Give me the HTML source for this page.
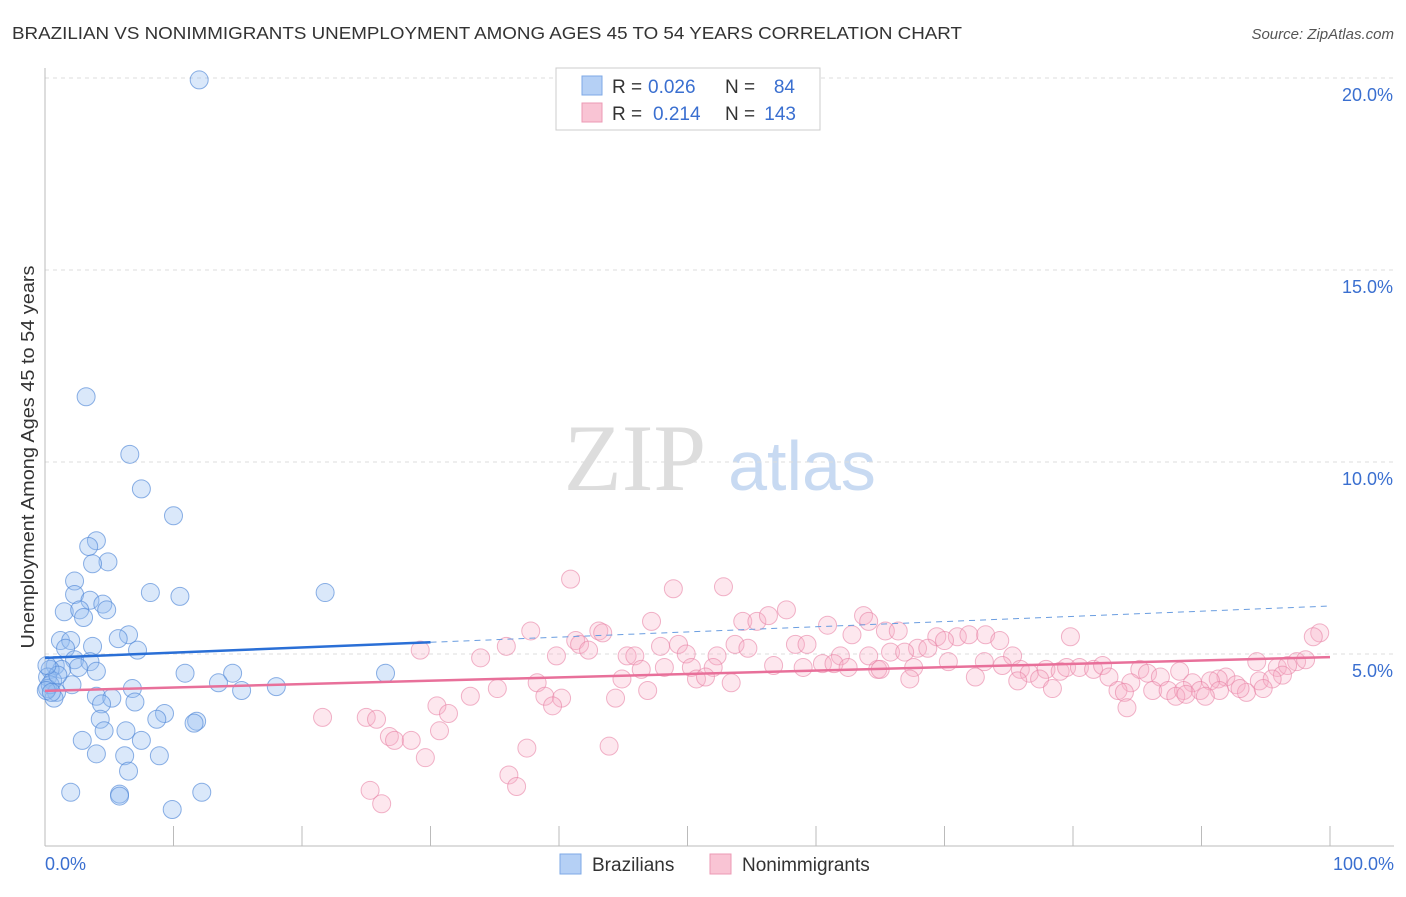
<!DOCTYPE html>
<html><head><meta charset="utf-8"><style>
body{margin:0;background:#fff;font-family:"Liberation Sans",sans-serif;}
</style></head><body>
<svg id="chart" width="1406" height="892" viewBox="0 0 1406 892" xmlns="http://www.w3.org/2000/svg">
<text x="12" y="39" font-size="17.5" fill="#333" textLength="950" lengthAdjust="spacingAndGlyphs">BRAZILIAN VS NONIMMIGRANTS UNEMPLOYMENT AMONG AGES 45 TO 54 YEARS CORRELATION CHART</text>
<text x="1394" y="39" font-size="15" fill="#555" text-anchor="end" font-style="italic">Source: ZipAtlas.com</text>
<g>
<text x="635" y="490" font-size="95" fill="#ddd" font-family="Liberation Serif" text-anchor="middle">ZIP</text>
<text x="802" y="490" font-size="70" fill="#c8daf2" text-anchor="middle">atlas</text>
</g>
<text transform="translate(34,457) rotate(-90)" font-size="18" fill="#333" text-anchor="middle" textLength="383" lengthAdjust="spacingAndGlyphs">Unemployment Among Ages 45 to 54 years</text>
<g id="grid"></g><g id="axes"></g><g id="marks"></g><g id="trends"></g>
<g>
<rect x="556" y="68" width="264" height="62" fill="#fff" stroke="#ccc"/>
<rect x="582" y="76" width="20" height="19" fill="#b5d0f5" stroke="#7ea8e6"/>
<rect x="582" y="103" width="20" height="19" fill="#f9c4d4" stroke="#ec9ab4"/>
<text x="612" y="93" font-size="19" fill="#333">R =</text>
<text x="648" y="93" font-size="19" fill="#3a6fd0">0.026</text>
<text x="725" y="93" font-size="19" fill="#333">N =</text>
<text x="795" y="93" font-size="19" fill="#3a6fd0" text-anchor="end">84</text>
<text x="612" y="120" font-size="19" fill="#333">R =</text>
<text x="653" y="120" font-size="19" fill="#3a6fd0">0.214</text>
<text x="725" y="120" font-size="19" fill="#333">N =</text>
<text x="796" y="120" font-size="19" fill="#3a6fd0" text-anchor="end">143</text>
</g>
<g>
<rect x="560" y="854" width="21" height="20" fill="#b5d0f5" stroke="#7ea8e6"/>
<text x="592" y="871" font-size="19" fill="#333">Brazilians</text>
<rect x="710" y="854" width="21" height="20" fill="#f9c4d4" stroke="#ec9ab4"/>
<text x="742" y="871" font-size="19" fill="#333">Nonimmigrants</text>
</g>
</svg>
<script>
const yTicks=[5,10,15,20];
const yTickLabels=["5.0%","10.0%","15.0%","20.0%"];
const xTickLabels=["0.0%","100.0%"];
const blueX=[12.0,3.2,6.6,7.5,10.0,4.0,3.4,4.9,3.7,2.3,8.2,10.5,21.8,2.3,3.5,4.5,1.5,2.7,3.0,4.8,6.5,5.7,3.7,1.2,2.0,1.6,7.2,2.3,3.5,0.8,2.6,4.0,1.3,0.4,0.2,10.9,14.6,26.5,0.6,2.1,0.2,6.8,13.5,15.3,18.0,0.9,0.7,4.0,5.2,7.0,4.4,9.3,4.3,8.7,11.8,11.6,4.6,6.3,2.9,7.5,4.0,6.2,8.9,6.5,2.0,5.8,5.8,12.2,9.9,0.4,0.1,0.5,1.0,0.15];
const blueY=[19.95,11.7,10.2,9.3,8.6,7.95,7.8,7.4,7.35,6.9,6.6,6.5,6.6,6.55,6.4,6.3,6.1,6.15,5.95,6.15,5.5,5.4,5.2,5.35,5.35,5.15,5.1,4.85,4.8,4.7,4.65,4.55,4.6,4.6,4.4,4.5,4.5,4.5,4.3,4.2,4.1,4.1,4.25,4.05,4.15,4.0,3.85,3.9,3.85,3.75,3.7,3.45,3.3,3.3,3.25,3.2,3.0,3.0,2.75,2.75,2.4,2.35,2.35,1.95,1.4,1.35,1.3,1.4,0.95,4.2,4.05,4.0,4.45,4.7];
const pinkX=[40.9,48.9,52.8,57.7,47.2,54.3,55.4,56.3,63.7,64.1,60.9,37.8,43.1,43.4,41.3,41.6,42.3,62.8,65.4,66.4,69.4,71.0,71.9,73.2,74.3,79.8,99.2,98.7,29.2,35.9,47.9,49.3,53.7,54.7,58.4,59.3,67.9,68.7,70.0,49.9,45.3,45.9,39.8,33.9,52.3,61.9,64.1,65.8,66.9,75.3,94.3,97.4,98.1,95.9,96.7,46.4,48.2,50.3,52.0,56.7,59.0,60.5,61.4,62.5,64.8,67.6,70.3,73.1,74.5,75.9,76.6,77.9,79.0,79.5,80.5,81.6,82.3,85.2,85.8,88.3,91.9,91.3,94.5,96.3,95.5,44.9,50.7,51.4,53.4,65.0,67.3,72.4,75.7,77.4,82.8,86.8,89.3,90.7,92.7,78.4,84.5,86.2,38.3,35.2,46.9,83.5,84.0,87.4,88.6,89.9,91.4,93.5,94.8,88.0,88.8,90.3,93.0,33.1,38.9,40.2,44.4,39.5,30.5,31.4,21.6,25.0,25.8,30.7,26.8,27.2,28.5,43.9,37.5,29.6,36.1,36.7,25.3,26.2,84.2];
const pinkY=[6.95,6.7,6.75,6.15,5.85,5.85,5.85,6.0,6.0,5.85,5.75,5.6,5.6,5.55,5.35,5.25,5.1,5.5,5.6,5.6,5.45,5.45,5.5,5.5,5.35,5.45,5.55,5.45,5.1,5.2,5.2,5.25,5.25,5.15,5.25,5.25,5.15,5.15,5.35,5.0,4.95,4.95,4.95,4.9,4.95,4.95,4.95,5.05,5.05,4.95,4.8,4.8,4.85,4.65,4.7,4.6,4.65,4.65,4.65,4.7,4.65,4.75,4.75,4.65,4.6,4.65,4.8,4.8,4.7,4.6,4.5,4.6,4.55,4.65,4.65,4.6,4.7,4.6,4.5,4.55,4.4,4.35,4.3,4.45,4.35,4.35,4.35,4.4,4.25,4.6,4.35,4.4,4.3,4.35,4.4,4.4,4.25,4.3,4.2,4.1,4.25,4.05,4.25,4.1,4.05,4.05,4.0,4.05,4.05,4.05,4.05,4.0,4.1,3.9,3.95,3.9,4.1,3.9,3.9,3.85,3.85,3.65,3.65,3.45,3.35,3.35,3.3,3.0,2.85,2.75,2.75,2.6,2.55,2.3,1.85,1.55,1.45,1.1,3.6];
const blueTrend=[4.9,6.25];
const blueSolidEnd=30;
const pinkTrend=[4.04,4.92];
const NS="http://www.w3.org/2000/svg";
const X0=45,X1=1330,Y0=846,PPY=38.4;
const sx=v=>X0+(X1-X0)*v/100;
const sy=v=>Y0-v*PPY;
function mk(tag,attrs,parent){const e=document.createElementNS(NS,tag);for(const k in attrs)e.setAttribute(k,attrs[k]);parent.appendChild(e);return e;}
const grid=document.getElementById('grid'),axes=document.getElementById('axes'),marks=document.getElementById('marks'),trends=document.getElementById('trends');
yTicks.forEach((t,i)=>{
 const l=mk('line',{x1:X0,x2:1394,y1:sy(t),y2:sy(t),stroke:'#ddd','stroke-dasharray':'4,4'},grid);
 
 
 const tx=mk('text',{x:1393,y:sy(t)+23,'font-size':18,fill:'#3a6fd0','text-anchor':'end'},axes);
 tx.textContent=yTickLabels[i];
 
 
});
let a=mk('line',{x1:X0,x2:X0,y1:68,y2:Y0,stroke:'#bbb'},axes);


a=mk('line',{x1:X0,x2:1394,y1:Y0,y2:Y0,stroke:'#bbb'},axes);


for(let i=1;i<=10;i++){
 const t=mk('line',{x1:sx(i*10),x2:sx(i*10),y1:826,y2:Y0,stroke:'#bbb'},axes);
 
 
}
[[0,'start',45],[100,'end',1394]].forEach((d,i)=>{
 const t=mk('text',{x:d[2],y:870,'font-size':18,fill:'#3a6fd0','text-anchor':d[1]},axes);
 t.textContent=xTickLabels[i];
 
 
});
pinkX.forEach((x,i)=>{
 const c=mk('circle',{cx:sx(x),cy:sy(pinkY[i]),r:9,fill:'rgba(248,175,200,0.3)',stroke:'rgba(232,130,165,0.6)','stroke-width':1},marks);
 
 
});
blueX.forEach((x,i)=>{
 const c=mk('circle',{cx:sx(x),cy:sy(blueY[i]),r:9,fill:'rgba(150,190,240,0.35)',stroke:'rgba(80,135,215,0.65)','stroke-width':1},marks);
 
 
});
const bAt=v=>blueTrend[0]+(blueTrend[1]-blueTrend[0])*v/100;
let t=mk('line',{x1:sx(blueSolidEnd),y1:sy(bAt(blueSolidEnd)),x2:sx(100),y2:sy(bAt(100)),stroke:'#6a9de0','stroke-dasharray':'6,5','stroke-width':1},trends);


t=mk('line',{x1:sx(0),y1:sy(bAt(0)),x2:sx(blueSolidEnd),y2:sy(bAt(blueSolidEnd)),stroke:'#2a6fd6','stroke-width':2.5},trends);


t=mk('line',{x1:sx(0),y1:sy(pinkTrend[0]),x2:sx(100),y2:sy(pinkTrend[1]),stroke:'#e8709a','stroke-width':2.5},trends);


</script>
</body></html>
